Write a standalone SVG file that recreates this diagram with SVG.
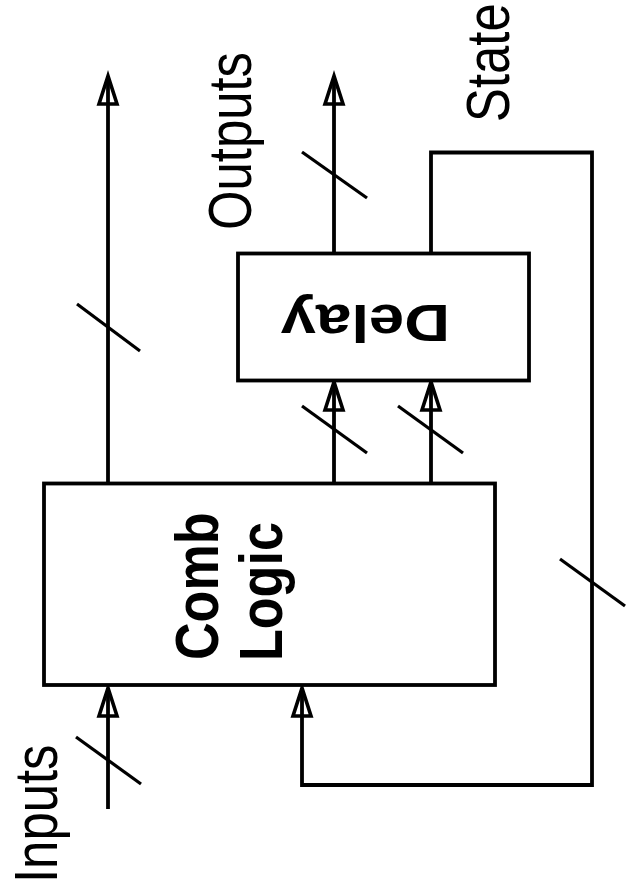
<svg xmlns="http://www.w3.org/2000/svg" width="626" height="896" viewBox="0 0 626 896">
<style>
.box{fill:#fff;stroke:#000;stroke-width:3.8}
.wire{fill:none;stroke:#000;stroke-width:3.8}
.slash{stroke:#000;stroke-width:3.2}
.head{fill:none;stroke:#000;stroke-width:3.6;stroke-linejoin:miter}
.lbl{font-family:"Liberation Sans",Arial,sans-serif;font-size:62px;fill:#000}
.blbl{font-family:"Liberation Sans",Arial,sans-serif;font-weight:bold;fill:#000}
</style>
<defs>
<path id="ah" d="M0,0 L-9,28 L9,28 Z"/>
</defs>
<g id="connectors">
<line class="wire" x1="108" y1="809" x2="108" y2="688"/>
<line class="wire" x1="108" y1="483" x2="108" y2="76"/>
<line class="wire" x1="334" y1="483" x2="334" y2="382"/>
<line class="wire" x1="431" y1="483" x2="431" y2="382"/>
<line class="wire" x1="334" y1="253" x2="334" y2="76"/>
<polyline class="wire" points="431,253 431,152.5 592,152.5 592,785 302,785 302,688"/>
<use href="#ah" class="head" x="108" y="688"/>
<use href="#ah" class="head" x="302" y="688"/>
<use href="#ah" class="head" x="108" y="76"/>
<use href="#ah" class="head" x="334" y="76"/>
<use href="#ah" class="head" x="334" y="382"/>
<use href="#ah" class="head" x="431" y="382"/>
<line class="slash" x1="76" y1="737" x2="141" y2="784"/>
<line class="slash" x1="77" y1="304" x2="140" y2="351"/>
<line class="slash" x1="302" y1="152" x2="367" y2="198"/>
<line class="slash" x1="302" y1="406" x2="367" y2="453"/>
<line class="slash" x1="398" y1="406" x2="463" y2="453"/>
<line class="slash" x1="560" y1="559" x2="625" y2="606"/>
</g>
<g id="comb">
<rect class="box" x="44" y="483.5" width="451" height="201.5"/>
<text class="blbl" font-size="62" transform="translate(218,660) rotate(-90) scale(0.84,1)">Comb</text>
<text class="blbl" font-size="62" transform="translate(282,661) rotate(-90) scale(0.84,1)">Logic</text>
</g>
<g id="delay">
<rect class="box" x="238" y="253.5" width="291" height="127"/>
<text class="blbl" font-size="52" transform="translate(450,305) rotate(180) scale(1.22,1)">Delay</text>
</g>
<g id="labels">
<text class="lbl" transform="translate(57,883) rotate(-90) scale(0.82,1)">Inputs</text>
<text class="lbl" transform="translate(251,230) rotate(-90) scale(0.82,1)">Outputs</text>
<text class="lbl" transform="translate(509,122) rotate(-90) scale(0.82,1)">State</text>
</g>
</svg>
